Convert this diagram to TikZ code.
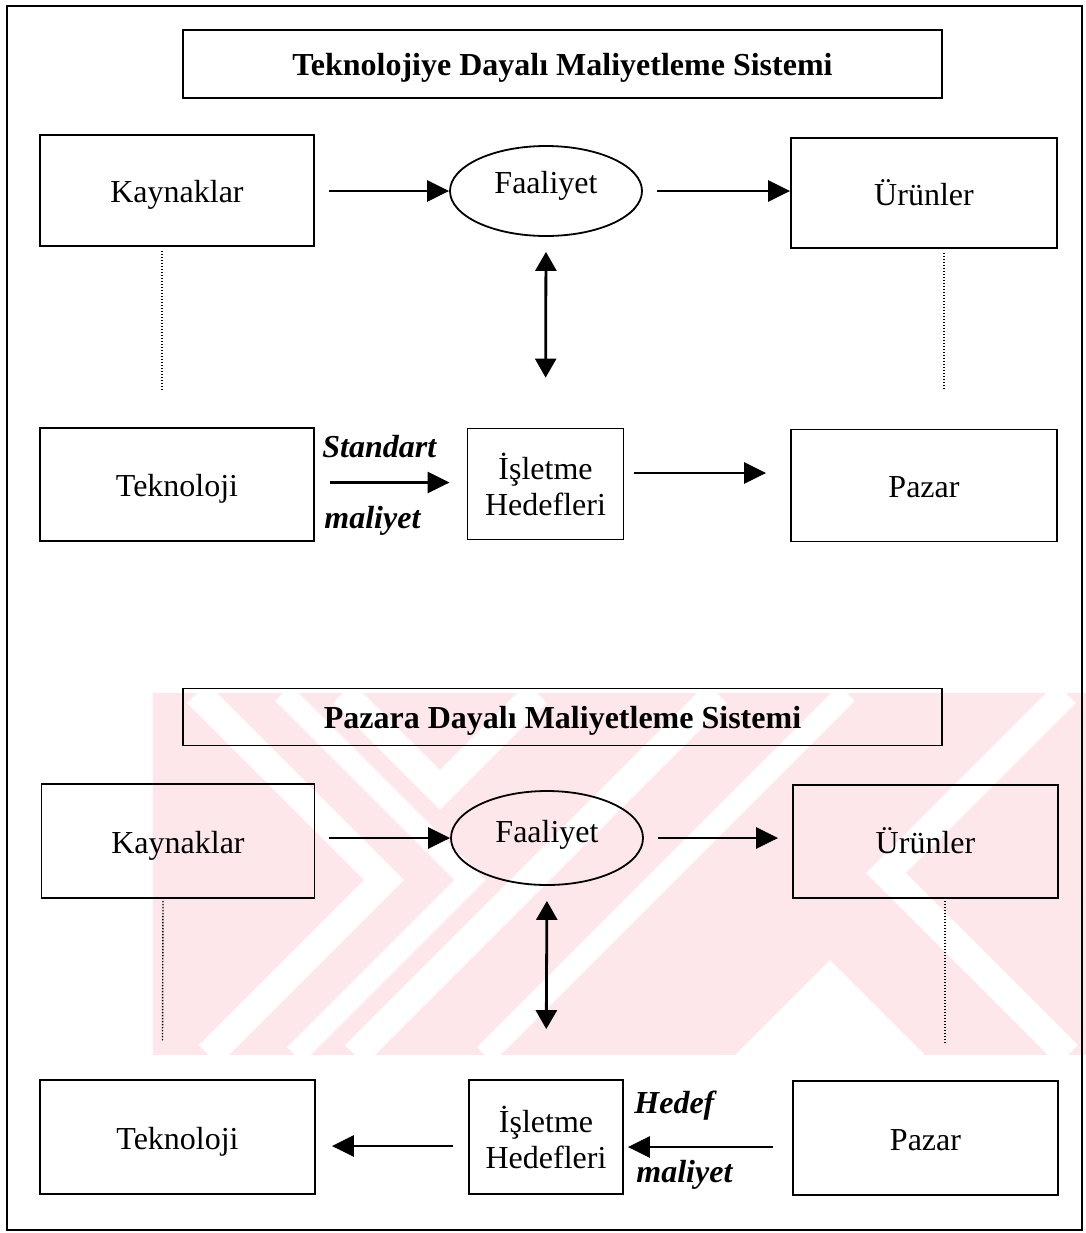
\documentclass[tikz,border=0pt]{standalone}
\usepackage{fontspec}
\setmainfont{Liberation Serif}
\usetikzlibrary{arrows.meta,shapes.geometric}
\definecolor{wmpink}{RGB}{254,231,235}
\begin{document}
\begin{tikzpicture}[x=0.5pt,y=-0.5pt,
  box/.style={draw, line width=0.9pt, inner sep=0pt, font=\fontsize{16}{18}\selectfont},
  one/.style={text height=12pt, text depth=0pt},
  ttl/.style={box, text height=11.5pt, text depth=0pt, font=\fontsize{16}{18}\selectfont\bfseries},
  oval/.style={draw, ellipse, line width=0.9pt, inner sep=0pt, minimum width=96pt, minimum height=45pt},
  txt/.style={font=\fontsize{16}{18}\selectfont, inner sep=0pt},
  lbl/.style={font=\fontsize{16}{18}\selectfont\bfseries\itshape, inner sep=0pt},
  arr/.style={line width=1.4pt, -{Triangle[length=11pt,width=10.5pt]}},
  darr/.style={line width=1.4pt, {Triangle[length=9.5pt,width=10.5pt]}-{Triangle[length=9.5pt,width=10.5pt]}},
  link/.style={line width=0.7pt, dash pattern=on 0.7pt off 0.8pt},
  stripe/.style={white, line width=14pt}]

\useasboundingbox (0,0) rectangle (1086,1233);

% pale background mark behind the lower diagram
\begin{scope}
  \clip (153,693) rectangle (1086,1055);
  \fill[wmpink] (153,693) rectangle (1086,1055);
  \draw[stripe] (197,693) -- (384,880) -- (209,1055);
  \draw[stripe, line width=11pt] (283,693) -- (470,880) -- (295,1055);
  \draw[stripe] (343,693) -- (440,790) -- (537,693);
  \draw[stripe] (717,693) -- (355,1055);
  \draw[stripe, line width=11pt] (847,693) -- (485,1055);
  \draw[stripe] (1066,693) -- (886,873) -- (1068,1055);
  \fill[white] (830,960) -- (735,1055) -- (925,1055) -- cycle;
\end{scope}

% outer frame
\draw[line width=1pt] (7,6) rectangle (1082,1230);

% ---------- upper system ----------
\node[ttl, minimum width=379.5pt, minimum height=34pt] (title1) at (562.5,64) {Teknolojiye Dayalı Maliyetleme Sistemi};

\node[box, one, minimum width=137pt, minimum height=55.5pt] (k1) at (177,190.5) {Kaynaklar};
\node[oval] (f1) at (546,191) {};
\node[txt, anchor=base] (f1t) at (546,193) {Faaliyet};
\node[box, one, minimum width=133pt, minimum height=55pt] (u1) at (924,193) {Ürünler};

\node[box, one, minimum width=137pt, minimum height=56.5pt] (t1) at (177,484.5) {Teknoloji};
\node[box, minimum width=78pt, minimum height=55.5pt, align=center] (h1) at (545.5,484) {İşletme\\Hedefleri};
\node[box, one, minimum width=133pt, minimum height=56pt] (p1) at (924,485.5) {Pazar};

\node[lbl, anchor=base west] (s1) at (322,457) {Standart};
\node[lbl, anchor=base west] (m1) at (324,528) {maliyet};

\draw[arr, shorten <=7pt] (k1.east |- f1) -- (f1.west);
\draw[arr, shorten <=7pt] (f1.east) -- (f1.east -| u1.west);
\draw[darr, shorten <=7.5pt, shorten >=25pt] (f1.south) -- (h1.north);
\draw[arr, shorten <=7.5pt, shorten >=8.5pt] ([yshift=1pt]t1.east) -- ([yshift=1pt]t1.east -| h1.west);
\draw[arr, shorten <=5pt, shorten >=12pt] ([yshift=5.5pt]h1.east) -- ([yshift=5.5pt]h1.east -| p1.west);
\draw[link] ([xshift=-7.5pt,yshift=-2pt]k1.south) -- ([xshift=-7.5pt,yshift=19pt]t1.north);
\draw[link] ([xshift=10pt,yshift=-2pt]u1.south) -- ([xshift=10pt,yshift=19pt]p1.north);

% ---------- lower system ----------
\node[ttl, minimum width=379.5pt, minimum height=28.5pt] (title2) at (562.5,717) {Pazara Dayalı Maliyetleme Sistemi};

\node[box, one, minimum width=136.5pt, minimum height=57pt] (k2) at (178,841) {Kaynaklar};
\node[oval, minimum height=47pt] (f2) at (547,838) {};
\node[txt, anchor=base] (f2t) at (547,842) {Faaliyet};
\node[box, one, minimum width=132.5pt, minimum height=56.5pt] (u2) at (925.5,841.5) {Ürünler};

\node[box, one, minimum width=137.5pt, minimum height=57pt] (t2) at (177.5,1137) {Teknoloji};
\node[box, minimum width=77pt, minimum height=57pt, align=center] (h2) at (546,1137) {İşletme\\Hedefleri};
\node[box, one, minimum width=132.5pt, minimum height=57pt] (p2) at (925.5,1138) {Pazar};

\node[lbl, anchor=base west] (s2) at (634,1113) {Hedef};
\node[lbl, anchor=base west] (m2) at (636,1182) {maliyet};

\draw[arr, shorten <=7pt] (k2.east |- f2) -- (f2.west);
\draw[arr, shorten <=7pt, shorten >=7pt] (f2.east) -- (f2.east -| u2.west);
\draw[darr, shorten <=7.5pt, shorten >=25pt] (f2.south) -- (h2.north);
\draw[arr, shorten <=7.5pt, shorten >=8pt] ([yshift=-4.5pt]h2.west) -- ([yshift=-4.5pt]h2.west -| t2.east);
\draw[arr, shorten <=9.5pt, shorten >=2pt] ([yshift=-4.5pt]p2.west) -- ([yshift=-4.5pt]p2.west -| h2.east);
\draw[link] ([xshift=-7.5pt,yshift=-1pt]k2.south) -- ([xshift=-7.5pt,yshift=19pt]t2.north);
\draw[link] ([xshift=9.75pt,yshift=-1pt]u2.south) -- ([xshift=9.75pt,yshift=19pt]p2.north);

\end{tikzpicture}
\end{document}
